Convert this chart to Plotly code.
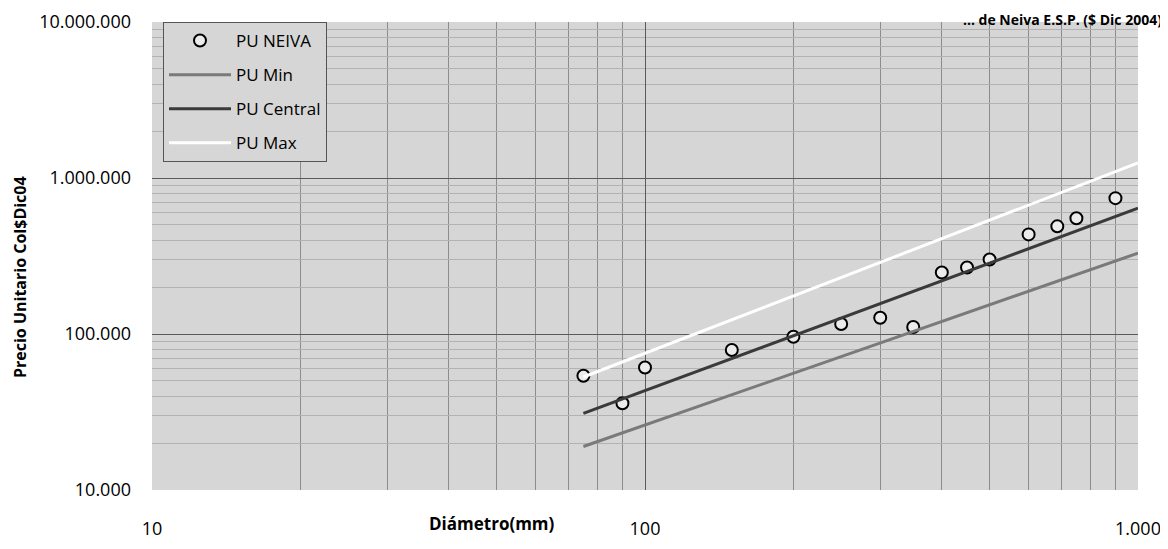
import plotly.graph_objects as go

# Data
diametro_neiva = [75, 90, 100, 150, 200, 250, 300, 350, 400, 450, 500, 600, 686, 750, 900]
pu_neiva = [54000, 36000, 61000, 79000, 96000, 116000, 127000, 111000, 248000, 267000, 300000,
            435000, 490000, 552000, 743000]

diametro_lineas = [75, 1000]
pu_min = [19000, 330000]
pu_central = [31000, 640000]
pu_max = [53000, 1250000]

x_tickvals = [10, 100, 1000]
x_ticktext = ["10", "100", "1.000"]
y_tickvals = [10000, 100000, 1000000, 10000000]
y_ticktext = ["10.000", "100.000", "1.000.000", "10.000.000"]

FONT = "Open Sans"
OFF = 8  # page body margin
W, H = 1168 - OFF, 549 - OFF
ML, MR, MT, MB = 152 - OFF, 30, 22 - OFF, 59
PW, PH = W - ML - MR, H - MT - MB

def px_x(p):
    return (p - OFF - ML) / PW

def px_y(p):
    return 1 - (p - OFF - MT) / PH

fig = go.Figure()
fig.add_trace(go.Scatter(x=diametro_neiva, y=pu_neiva, mode="markers", name="PU NEIVA",
                         legendgroup="a",
                         marker=dict(symbol="circle", size=12, color="rgba(235,235,235,1)",
                                     line=dict(color="black", width=2))))
fig.add_trace(go.Scatter(x=diametro_lineas, y=pu_min, mode="lines", name="PU Min",
                         legendgroup="b", line=dict(color="#7a7a7a", width=3)))
fig.add_trace(go.Scatter(x=diametro_lineas, y=pu_central, mode="lines", name="PU Central",
                         legendgroup="c", line=dict(color="#3a3a3a", width=3)))
fig.add_trace(go.Scatter(x=diametro_lineas, y=pu_max, mode="lines", name="PU Max",
                         legendgroup="d", line=dict(color="#ffffff", width=3)))

fig.update_layout(
    width=W, height=H,
    margin=dict(l=ML, r=MR, t=MT, b=MB, autoexpand=False),
    paper_bgcolor="white",
    plot_bgcolor="#d6d6d6",
    font=dict(family=FONT, size=17, color="black"),
    showlegend=True,
    legend=dict(x=px_x(163), y=px_y(22), xanchor="left", yanchor="top",
                bgcolor="#d6d6d6", bordercolor="#555555", borderwidth=1,
                font=dict(family=FONT, size=17, color="black"),
                itemwidth=62, tracegroupgap=9, traceorder="grouped"),
)

fig.update_xaxes(type="log", range=[1, 3], tickvals=x_tickvals, ticktext=x_ticktext,
                 showgrid=True, gridcolor="#5a5a5a", gridwidth=1,
                 minor=dict(showgrid=True, gridcolor="#8c8c8c", gridwidth=1, dtick="D1"),
                 showline=False, zeroline=False, ticks="", ticklabelstandoff=26,
                 ticklabeloverflow="allow",
                 tickfont=dict(family=FONT, size=18))
fig.update_yaxes(type="log", range=[4, 7], tickvals=y_tickvals, ticktext=y_ticktext,
                 showgrid=True, gridcolor="#5a5a5a", gridwidth=1,
                 minor=dict(showgrid=True, gridcolor="#b2b2b2", gridwidth=1, dtick="D1"),
                 showline=False, zeroline=False, ticks="", ticklabelstandoff=20,
                 ticklabeloverflow="allow",
                 tickfont=dict(family=FONT, size=18))

# Axis titles
fig.add_annotation(text="<b>Diámetro(mm)</b>", xref="paper", yref="paper",
                   x=px_x(492), y=px_y(523), xanchor="center", yanchor="middle",
                   showarrow=False, font=dict(family=FONT, size=17))
fig.add_annotation(text="<b>Precio Unitario Col$Dic04</b>", xref="paper", yref="paper",
                   x=px_x(20), y=px_y(277), xanchor="center", yanchor="middle", textangle=-90,
                   showarrow=False, font=dict(family=FONT, size=16))

# Title at the top right (partly cut in the scanned page)
fig.add_annotation(text="<b>… de Neiva E.S.P. ($ Dic 2004)</b>", xref="paper", yref="paper",
                   x=px_x(1164), y=px_y(OFF), xanchor="right", yanchor="top",
                   showarrow=False, font=dict(family=FONT, size=14, color="black"))

fig.write_html("out.html")
